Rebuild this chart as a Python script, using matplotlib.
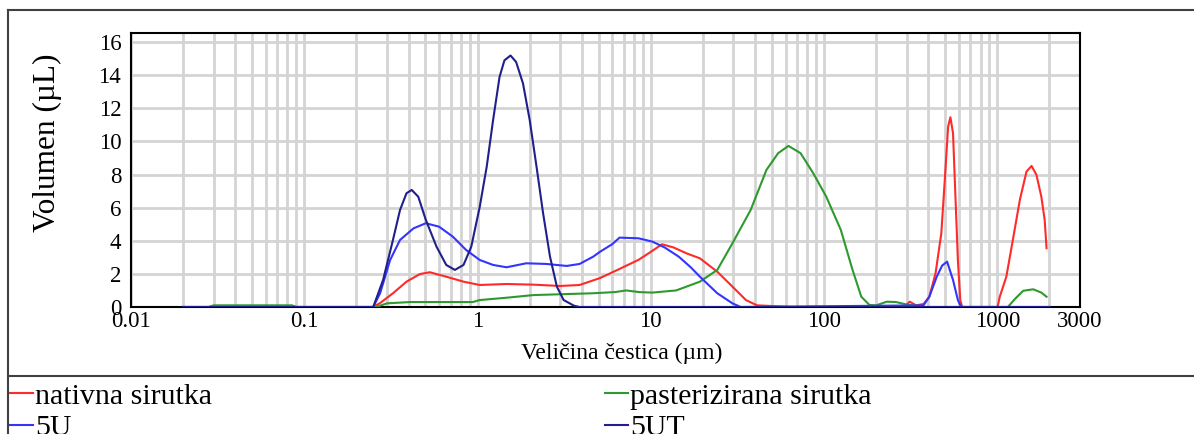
import matplotlib
matplotlib.use("Agg")
import matplotlib.pyplot as plt
from matplotlib.lines import Line2D
from matplotlib.ticker import LogLocator, NullFormatter

plt.rcParams['font.family'] = ['Liberation Serif', 'DejaVu Serif']

# particle size (um) and volume (uL)
x_nat = [0.02, 0.25, 0.274, 0.325, 0.389, 0.465, 0.53, 0.66, 0.83, 1.03, 1.47, 2.1, 3.0, 3.88,
         5.1, 6.6, 8.5, 9.9, 11.6, 13.5, 16.1, 19.2, 24.2, 29.6, 35.4, 41, 66,
         290, 312, 340, 375, 405, 440, 475, 496, 520, 536, 555, 574, 592, 611, 627, 1003,
         1033, 1127, 1229, 1349, 1473, 1576, 1682, 1795, 1876, 1923]
y_nat = [0, 0, 0.24, 0.83, 1.53, 1.99, 2.1, 1.83, 1.53, 1.33, 1.39, 1.35, 1.27, 1.33,
         1.75, 2.3, 2.85, 3.3, 3.79, 3.6, 3.24, 2.94, 2.13, 1.23, 0.42, 0.1, 0,
         0, 0.32, 0.1, 0.18, 0.62, 2.04, 4.45, 7.47, 10.9, 11.46, 10.5, 6.47, 2.84, 0.42, 0, 0,
         0.62, 1.83, 4.05, 6.47, 8.18, 8.52, 7.98, 6.66, 5.26, 3.55]

x_past = [0.02, 0.028, 0.03, 0.085, 0.09, 0.26, 0.3, 0.41, 0.94, 1.03, 1.47, 2.1, 4.65,
          6.2, 7.2, 8.6, 10.2, 14, 19.2, 24.2, 29.6, 37.7, 46.5, 54.3, 62.3, 73.2, 86.6,
          103, 125, 146, 164, 183, 200, 230, 260, 300, 345, 365, 1150, 1273, 1410, 1610,
          1795, 1923]
y_past = [0, 0, 0.1, 0.1, 0, 0, 0.22, 0.3, 0.3, 0.42, 0.56, 0.72, 0.83,
          0.9, 1.0, 0.9, 0.87, 1.0, 1.53, 2.24, 3.85, 5.86, 8.28, 9.29, 9.73, 9.29, 8.08,
          6.66, 4.65, 2.24, 0.62, 0.12, 0.1, 0.32, 0.3, 0.15, 0.05, 0, 0, 0.52, 0.98, 1.07,
          0.87, 0.62]

x_5u = [0.02, 0.25, 0.274, 0.313, 0.357, 0.427, 0.503, 0.6, 0.72, 0.86, 1.03, 1.23, 1.47,
        1.91, 2.5, 3.27, 3.88, 4.65, 5.1, 6.0, 6.6, 8.5, 10.2, 12, 14.5, 17, 19.2, 24.2,
        29.6, 33, 375, 405, 447, 480, 513, 555, 592, 618, 2000]
y_5u = [0, 0, 0.83, 2.84, 4.05, 4.75, 5.06, 4.85, 4.25, 3.44, 2.84, 2.54, 2.4,
        2.64, 2.6, 2.48, 2.6, 3.04, 3.34, 3.8, 4.19, 4.15, 3.95, 3.6, 3.04, 2.4, 1.83, 0.83,
        0.22, 0, 0.1, 0.62, 1.83, 2.5, 2.74, 1.63, 0.42, 0, 0]

x_5ut = [0.02, 0.25, 0.285, 0.325, 0.357, 0.389, 0.417, 0.455, 0.503, 0.58, 0.66, 0.74,
         0.83, 0.92, 1.03, 1.13, 1.23, 1.34, 1.43, 1.55, 1.67, 1.83, 2.0, 2.19, 2.39, 2.62,
         2.87, 3.14, 3.6, 3.88, 2000]
y_5ut = [0, 0, 1.63, 4.05, 5.86, 6.87, 7.07, 6.66, 5.26, 3.64, 2.54, 2.24,
         2.54, 3.64, 6.06, 8.48, 11.3, 13.9, 14.9, 15.19, 14.8, 13.5, 11.3, 8.48, 5.66, 3.04,
         1.23, 0.42, 0.08, 0, 0]

labels = ['nativna sirutka', 'pasterizirana sirutka', '5U', '5UT']
colors = ['#ff2a2a', '#2e9a2e', '#3434ff', '#20208c']

fig = plt.figure(figsize=(11.94, 4.34), dpi=100)
ax = fig.add_axes([131 / 1194, 1 - 307 / 434, 949 / 1194, 274 / 434])

series = [(x_nat, y_nat), (x_past, y_past), (x_5u, y_5u), (x_5ut, y_5ut)]
handles = []
for (xs, ys), lab, col in zip(series, labels, colors):
    h, = ax.plot(xs, ys, color=col, lw=1.5, label=lab, zorder=3,
                 solid_joinstyle='round')
    handles.append(h)

ax.set_xscale('log')
ax.set_xlim(0.01, 3000)
ax.set_ylim(0, 16.55)
ax.set_xticks([0.01, 0.1, 1, 10, 100, 1000, 3000])
ax.set_xticklabels(['0.01', '0.1', '1', '10', '100', '1000', '3000'])
ax.xaxis.set_minor_locator(LogLocator(base=10, subs=range(2, 10), numticks=20))
ax.xaxis.set_minor_formatter(NullFormatter())
ax.set_yticks(range(0, 17, 2))
ax.grid(True, which='both', axis='x', color='#d4d4d4', lw=2.0, zorder=0)
ax.grid(True, which='major', axis='y', color='#d4d4d4', lw=2.0, zorder=0)
ax.tick_params(which='both', length=0, labelsize=16.5)
ax.tick_params(axis='y', pad=7)
ax.tick_params(axis='x', pad=3)
for s in ax.spines.values():
    s.set_linewidth(1.5)
    s.set_color('black')

ax.set_xlabel('Veličina čestica (µm)', fontsize=17)
ax.xaxis.set_label_coords(0.517, -0.13)
ax.set_ylabel('Volumen (µL)', fontsize=22.5)
ax.yaxis.set_label_coords(-0.073, 0.6)

# outer frame and legend separator
frame_kw = dict(color='#404040', lw=1.5, transform=fig.transFigure)
fig.add_artist(Line2D([8 / 1194, 1], [1 - 10 / 434, 1 - 10 / 434], **frame_kw))
fig.add_artist(Line2D([8 / 1194, 8 / 1194], [0, 1 - 10 / 434], **frame_kw))
fig.add_artist(Line2D([8 / 1194, 1], [1 - 376 / 434, 1 - 376 / 434], **frame_kw))

leg_kw = dict(frameon=False, fontsize=21.5, handlelength=0.77, handletextpad=0.07,
              borderpad=0, borderaxespad=0, labelspacing=0.15, loc='upper left')
fig.legend([handles[0], handles[2]], [labels[0], labels[2]],
           bbox_to_anchor=(10 / 1194, 1 - 383 / 434), **leg_kw)
fig.legend([handles[1], handles[3]], [labels[1], labels[3]],
           bbox_to_anchor=(605 / 1194, 1 - 383 / 434), **leg_kw)

fig.savefig('out.png', dpi=100)
